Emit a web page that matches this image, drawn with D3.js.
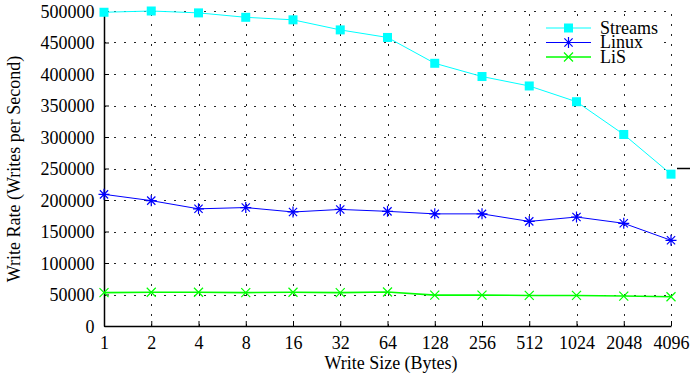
<!DOCTYPE html>
<html><head><meta charset="utf-8">
<script src="https://cdn.jsdelivr.net/npm/d3@7"></script>
<style>
html,body{margin:0;padding:0;background:#fff;}
svg text{font-family:'Liberation Serif',serif !important;font-size:18px !important;fill:#000;}
</style></head>
<body><svg id="c" width="691" height="379"></svg>
<script>
const sizes = ["1","2","4","8","16","32","64","128","256","512","1024","2048","4096"];
const streams = [498000,500000,497000,490000,486000,470000,458000,417000,396000,381000,356000,304000,241000];
const linux   = [209000,199000,186000,188000,181000,185000,182000,178000,178000,166000,173000,163000,136000];
const lis     = [53000,53500,53500,53000,53500,53000,54000,49000,49000,48500,48500,47500,46500];
const yTicks  = [0,50000,100000,150000,200000,250000,300000,350000,400000,450000,500000];
const seriesNames = ["Streams","Linux","LiS"];
const seriesColors = ["#00ffff","#0000ff","#00ff00"];

const svg = d3.select("#c");
const L=104, R=671, T=11, B=326;
const x = d3.scalePoint().domain(sizes).range([L,R]);
const y = d3.scaleLinear().domain([0,500000]).range([B,T]);

// grid
const g = svg.append("g");
g.selectAll("line.h").data(yTicks.filter(d=>d>0)).enter().append("line")
  .attr("x1",L).attr("x2",R).attr("y1",d=>Math.round(y(d))+0.5).attr("y2",d=>Math.round(y(d))+0.5)
  .attr("stroke","#000").attr("stroke-width",1).attr("stroke-dasharray","2,8").attr("stroke-opacity",0.85);
g.selectAll("line.v").data(sizes.slice(1)).enter().append("line")
  .attr("x1",d=>Math.round(x(d))+0.5).attr("x2",d=>Math.round(x(d))+0.5).attr("y1",B).attr("y2",T)
  .attr("stroke","#000").attr("stroke-width",1).attr("stroke-dasharray","2,8").attr("stroke-opacity",0.85);

// axes
const xa = svg.append("g").attr("transform",`translate(0,${B})`)
  .call(d3.axisBottom(x).tickSizeInner(-5).tickSizeOuter(0));
const ya = svg.append("g").attr("transform",`translate(${L},0)`)
  .call(d3.axisLeft(y).tickValues(yTicks).tickFormat(d3.format("d")).tickSizeInner(-5).tickSizeOuter(0));
[xa,ya].forEach(a=>{
  a.attr("font-family",null).attr("font-size",null);
  a.selectAll("text").attr("fill","#000");
  a.selectAll("line").attr("stroke","#000");
  a.select(".domain").attr("stroke","#000").attr("stroke-width",1.5);
});
xa.selectAll("text").attr("y",22.5).attr("dy",0);
ya.selectAll("text").attr("x",-9.5).attr("dy","0.35em");

// stray tick at right
svg.append("line").attr("x1",R+6).attr("x2",R+19).attr("y1",y(250000)).attr("y2",y(250000))
  .attr("stroke","#000").attr("stroke-width",1.5);

// series
const data = [streams,linux,lis];
const widths = [1,1,1.6];
const line = d3.line().x((d,i)=>x(sizes[i])).y(d=>y(d));
function marker(sel,k,cx,cy){
  const c = seriesColors[k];
  if(k===0){
    sel.append("rect").attr("x",cx-4.5).attr("y",cy-4.5).attr("width",9).attr("height",9).attr("fill",c);
  } else if(k===1){
    const r=5.5;
    const p = `M${cx-r},${cy}L${cx+r},${cy}M${cx},${cy-r}L${cx},${cy+r}M${cx-r*0.75},${cy-r*0.75}L${cx+r*0.75},${cy+r*0.75}M${cx-r*0.75},${cy+r*0.75}L${cx+r*0.75},${cy-r*0.75}`;
    sel.append("path").attr("d",p).attr("stroke",c).attr("stroke-width",1.2).attr("fill","none");
  } else {
    const r=4.5;
    const p = `M${cx-r},${cy-r}L${cx+r},${cy+r}M${cx-r},${cy+r}L${cx+r},${cy-r}`;
    sel.append("path").attr("d",p).attr("stroke",c).attr("stroke-width",1.2).attr("fill","none");
  }
}
[2,1,0].forEach(k=>{
  svg.append("path").datum(data[k]).attr("d",line).attr("fill","none")
    .attr("stroke",seriesColors[k]).attr("stroke-width",widths[k]);
  const mg = svg.append("g");
  data[k].forEach((v,i)=>marker(mg,k,x(sizes[i]),y(v)));
});

// legend
const legY=[28,42.5,57];
svg.append("rect").attr("x",544).attr("y",20).attr("width",120).attr("height",46).attr("fill","#fff");
seriesNames.forEach((n,k)=>{
  svg.append("line").attr("x1",546).attr("x2",591).attr("y1",legY[k]).attr("y2",legY[k])
    .attr("stroke",seriesColors[k]).attr("stroke-width",widths[k]);
  marker(svg,k,568.5,legY[k]);
  svg.append("text").attr("x",600).attr("y",legY[k]).attr("dy","0.33em").text(n);
});

// titles
svg.append("text").attr("x",391).attr("y",369).attr("text-anchor","middle").text("Write Size (Bytes)");
svg.append("text").attr("transform","translate(20,169) rotate(-90)").attr("text-anchor","middle")
  .text("Write Rate (Writes per Second)");
</script></body></html>
